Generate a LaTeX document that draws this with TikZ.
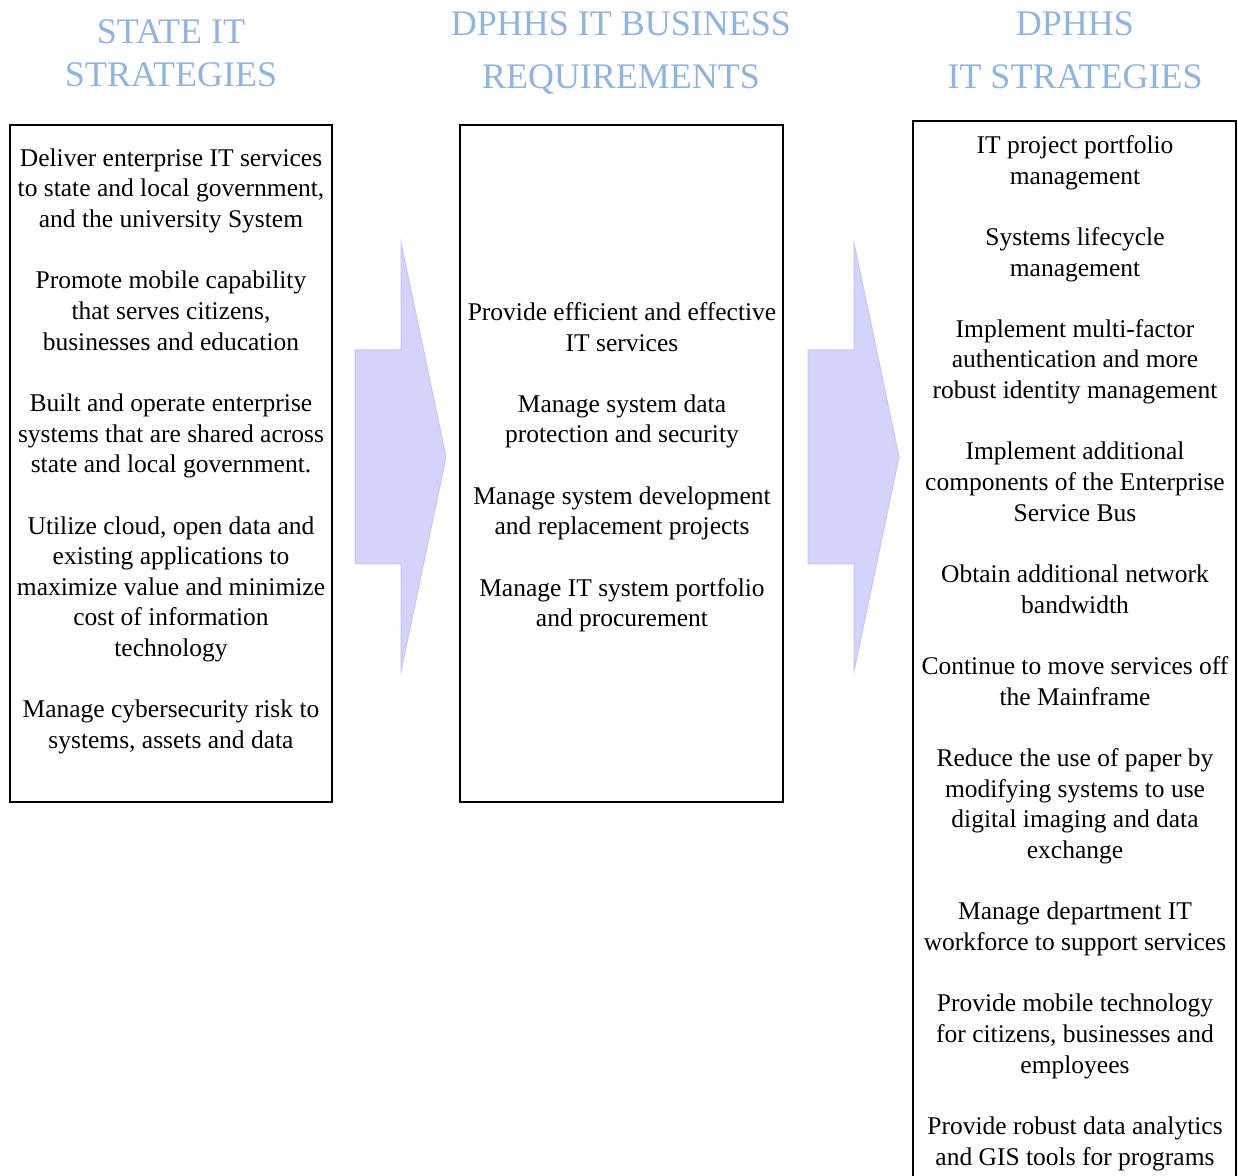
\documentclass[tikz,border=0pt]{standalone}
\usepackage{fontspec}
\setmainfont{Liberation Serif}
\definecolor{HeadBlue}{HTML}{8EB4E3}
\definecolor{ArrowFill}{HTML}{D4D4FB}
\definecolor{ArrowEdge}{HTML}{C4C4FF}
\newcommand{\flowarrow}[2]{
  \begin{scope}[shift={(#1,#2)}]
    \filldraw[fill=ArrowFill, draw=ArrowEdge, line width=0.5pt]
      (0,-107) -- (46,-107) -- (46,-214) -- (91,0) -- (46,214) -- (46,107) -- (0,107) -- cycle;
  \end{scope}
}
\newcommand{\gap}{\\[15.33pt]}

\begin{document}
\begin{tikzpicture}[x=0.5pt, y=-0.5pt,
    head/.style={text=HeadBlue, font=\fontsize{18}{21}\selectfont, inner sep=0pt, anchor=base},
    col/.style={draw=black, line width=1pt},
    body/.style={align=center, font=\fontsize{12.75}{15.33}\selectfont, inner sep=0pt, anchor=north}]
        \useasboundingbox (0,0) rectangle (1238,1176);
        \node[head] (stateHeadA) at (171,44) {STATE IT};
        \node[head] (stateHeadB) at (171,87) {STRATEGIES};
        \node[head] (reqHeadA) at (621,36) {DPHHS IT BUSINESS};
        \node[head] (reqHeadB) at (621,89) {REQUIREMENTS};
        \node[head] (dphhsHeadA) at (1075,36) {DPHHS};
        \node[head] (dphhsHeadB) at (1075,88.5) {IT STRATEGIES};
        \draw[col] (10,125) rectangle (332,802);
        \draw[col] (460,125) rectangle (783,802);
        \draw[col] (913,1176) -- (913,121) -- (1236,121) -- (1236,1176);
        \flowarrow{355}{457}
        \flowarrow{808}{457}
        \node[body] (stateText) at (171,148) {Deliver enterprise IT services\\to state and local government,\\and the university System\gap
          Promote mobile capability\\that serves citizens,\\businesses and education\gap
          Built and operate enterprise\\systems that are shared across\\state and local government.\gap
          Utilize cloud, open data and\\existing applications to\\maximize value and minimize\\cost of information\\technology\gap
          Manage cybersecurity risk to\\systems, assets and data};
        \node[body] (reqText) at (622,302) {Provide efficient and effective\\IT services\gap
          Manage system data\\protection and security\gap
          Manage system development\\and replacement projects\gap
          Manage IT system portfolio\\and procurement};
        \node[body] (dphhsText) at (1075,135) {IT project portfolio\\management\gap
          Systems lifecycle\\management\gap
          Implement multi-factor\\authentication and more\\robust identity management\gap
          Implement additional\\components of the Enterprise\\Service Bus\gap
          Obtain additional network\\bandwidth\gap
          Continue to move services off\\the Mainframe\gap
          Reduce the use of paper by\\modifying systems to use\\digital imaging and data\\exchange\gap
          Manage department IT\\workforce to support services\gap
          Provide mobile technology\\for citizens, businesses and\\employees\gap
          Provide robust data analytics\\and GIS tools for programs};
      \end{tikzpicture}
\end{document}
